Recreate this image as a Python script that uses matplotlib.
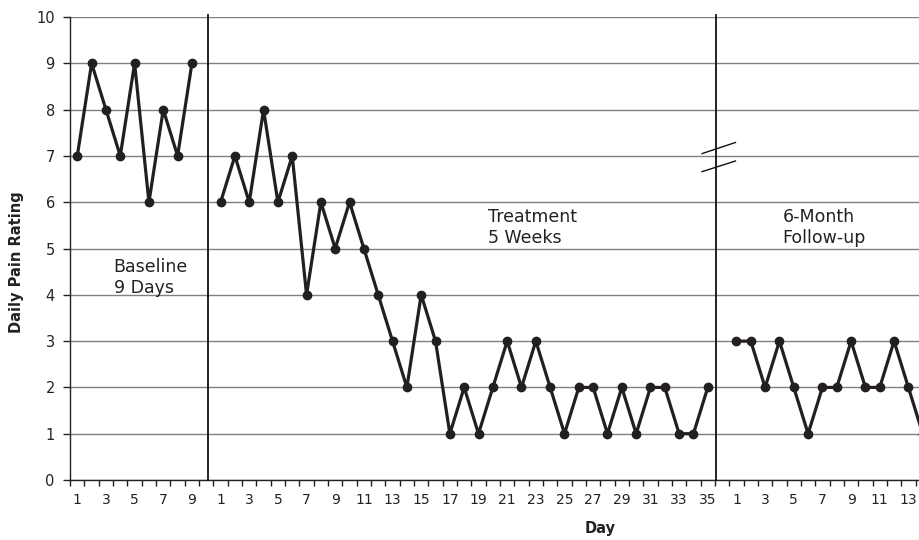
import matplotlib.pyplot as plt
import numpy as np

baseline = [7, 9, 8, 7, 9, 6, 8, 7, 9]
treatment = [6, 7, 6, 8, 6, 7, 4, 6, 5, 6, 5, 4, 3, 2, 4, 3, 1, 2, 1, 2,
             3, 2, 3, 2, 1, 2, 2, 1, 2, 1, 2, 2, 1, 1, 2]
followup = [3, 3, 2, 3, 2, 1, 2, 2, 3, 2, 2, 3, 2, 1]

phase_labels = ['Baseline\n9 Days', 'Treatment\n5 Weeks', '6-Month\nFollow-up']

# category positions, one blank category between phases
x_base = np.arange(1, len(baseline) + 1)
x_treat = np.arange(len(baseline) + 2, len(baseline) + 2 + len(treatment))
x_follow = np.arange(x_treat[-1] + 2, x_treat[-1] + 2 + len(followup))

fig = plt.figure(figsize=(9.19, 5.40), dpi=100)
ax = fig.add_axes([0.0763, 0.1111, 1 - 0.0763, 0.8574])

line_color = '#231f20'
for xs, ys in [(x_base, baseline), (x_treat, treatment), (x_follow, followup)]:
    ax.plot(xs, ys, color=line_color, linewidth=2.3, marker='o', markersize=6,
            solid_joinstyle='miter', zorder=4)

ax.set_yticks(range(0, 11))
ax.yaxis.grid(True, color='#808080', linewidth=1.0)
ax.set_axisbelow(True)

# labels on every other category
all_days = list(range(1, len(baseline) + 1)) + [''] + list(range(1, len(treatment) + 1)) + [''] \
    + list(range(1, len(followup) + 1))
positions = np.arange(1, len(all_days) + 1)
ax.set_xticks(positions[::2])
ax.set_xticklabels([str(d) for d in all_days[::2]])
ax.set_xticks(np.arange(0.5, 61), minor=True)
ax.tick_params(axis='x', which='major', length=0, pad=9, labelsize=10, colors='#222222')
ax.tick_params(axis='x', which='minor', length=4, width=1, color='#222222', direction='out')
ax.tick_params(axis='y', length=5, width=1, color='#222222', pad=6, labelsize=10.5,
               labelcolor='#222222')

# limits after ticks so set_xticks does not widen them
ax.set_xlim(0.5, 59.74)
ax.set_ylim(0, 10)

for s in ['top', 'right']:
    ax.spines[s].set_visible(False)
for s in ['left', 'bottom']:
    ax.spines[s].set_color('#222222')
    ax.spines[s].set_linewidth(1.0)

# phase change lines
for xv in [10.12, 45.57]:
    ax.plot([xv, xv], [0, 10.05], color='#111111', linewidth=1.3, clip_on=False, zorder=3)

# axis break marks
ax.plot([44.6, 46.93], [7.05, 7.29], color='#111111', linewidth=1.0, zorder=5)
ax.plot([44.6, 46.93], [6.66, 6.89], color='#111111', linewidth=1.0, zorder=5)

ax.text(3.53, 4.38, phase_labels[0], fontsize=12.5, va='center', ha='left',
        color='#222222', linespacing=1.2)
ax.text(29.64, 5.45, phase_labels[1], fontsize=12.5, va='center', ha='left',
        color='#222222', linespacing=1.2)
ax.text(50.22, 5.45, phase_labels[2], fontsize=12.5, va='center', ha='left',
        color='#222222', linespacing=1.2)

fig.text(17 / 919, 1 - 262 / 540, 'Daily Pain Rating', rotation=90, fontsize=10.5,
         fontweight='bold', ha='center', va='center', color='#222222')
fig.text(600 / 919, 1 - 528 / 540, 'Day', fontsize=10.5, fontweight='bold',
         ha='center', va='center', color='#222222')

fig.savefig('out.png', dpi=100)
